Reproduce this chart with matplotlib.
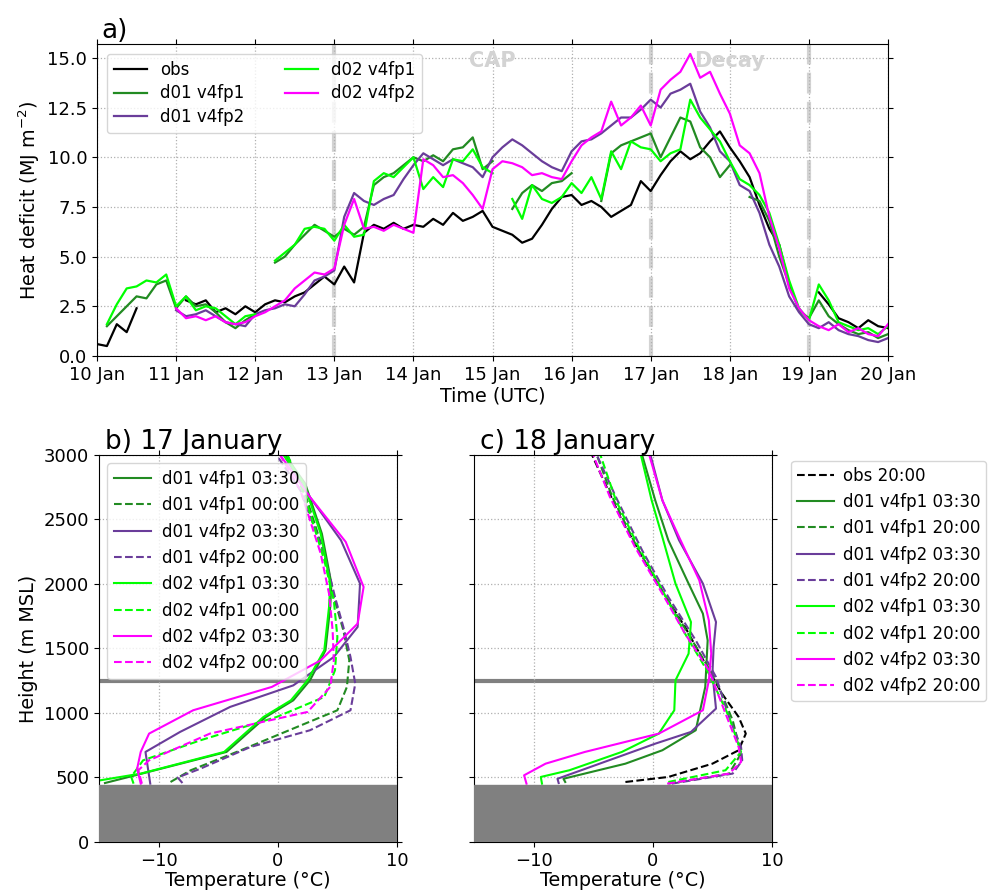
import numpy as np
import matplotlib
matplotlib.use("Agg")
import matplotlib.pyplot as plt

nan = np.nan

# ── a) heat deficit, 3-hourly from 10 Jan 00 UTC to 20 Jan 00 UTC ─────────────
day_labels = ["10 Jan", "11 Jan", "12 Jan", "13 Jan", "14 Jan", "15 Jan",
              "16 Jan", "17 Jan", "18 Jan", "19 Jan", "20 Jan"]
hours = np.arange(81) * 3.0  # hours since 10 Jan 00 UTC

obs = [0.6, 0.5, 1.6, 1.2, 2.4, nan, nan, nan, nan, 2.8, 2.6, 2.8, 2.2, 2.4, 2.1, 2.5,
       2.2, 2.6, 2.8, 2.7, 3.0, 3.2, 3.6, 4.0, 3.6, 4.5, 3.7, 6.2, 6.6, 6.4, 6.7, 6.4,
       6.6, 6.5, 6.9, 6.6, 7.2, 6.8, 7.0, 7.3, 6.5, 6.3, 6.1, 5.7, 5.9, 6.6, 7.4, 8.0,
       8.1, 7.6, 7.8, 7.5, 7.0, 7.3, 7.6, 8.8, 8.3, 9.1, 9.8, 10.3, 9.9, 10.2, 10.8, 11.3,
       10.5, 9.8, 9.0, 7.6, 6.4, 5.6, 3.6, nan, nan, 3.2, 2.6, 1.9, 1.7, 1.4, 1.8, 1.5, 1.4]
d01_fp1 = [nan, 1.5, 2.0, 2.5, 3.0, 2.9, 3.6, 3.8, 2.4, 3.0, 2.5, 2.6, 2.2, 1.7, 1.4, 1.8,
           2.1, nan, 4.7, 5.0, 5.6, 6.1, 6.6, 6.3, 6.0, 6.4, 6.1, 6.5, 8.6, 9.0, 9.2, 9.6,
           10.0, 9.8, 10.1, 9.8, 10.4, 10.5, 11.0, 9.4, 9.8, nan, 7.4, 8.2, 8.6, 8.3, 8.7, 8.8,
           9.2, nan, nan, 7.8, 10.2, 10.6, 10.8, 11.0, 11.2, 10.0, 11.0, 12.0, 11.8, 10.5, 10.0, 9.0,
           9.6, nan, 8.0, 7.8, 6.8, 5.0, 3.6, 2.3, 1.9, 2.8, 2.0, 1.6, 1.3, 1.1, 1.2, 0.9, 1.1]
d01_fp2 = [nan, nan, nan, nan, nan, nan, nan, nan, 2.3, 2.0, 2.1, 2.3, 2.0, 1.7, 1.6, 1.5,
           2.1, 2.3, 2.4, 2.6, 2.5, 3.1, 3.8, 4.0, 4.3, 7.0, 8.2, 7.8, 7.6, 7.9, 8.1, 8.9,
           9.6, 10.2, 9.9, 9.6, 9.9, 9.7, 9.5, 9.0, 10.0, 10.5, 10.9, 10.6, 10.2, 9.8, 9.5, 9.3,
           10.3, 10.8, 10.9, 11.2, 11.6, 12.0, 12.0, 12.4, 12.9, 12.5, 13.2, 13.4, 13.7, 12.3, 11.5, 10.3,
           9.8, 8.6, 8.3, 7.2, 5.6, 4.5, 3.0, 2.2, 1.6, 1.4, 1.7, 1.3, 1.1, 1.0, 0.8, 0.7, 0.9]
d02_fp1 = [nan, 1.6, 2.6, 3.4, 3.5, 3.8, 3.7, 4.1, 2.5, 3.0, 2.3, 2.5, 2.4, 2.0, 1.6, 2.0,
           2.1, nan, 4.8, 5.2, 5.6, 6.4, 6.5, 6.4, 5.8, 6.6, 6.0, 6.1, 8.8, 9.2, 9.0, 9.5,
           10.0, 8.4, 9.0, 8.5, 9.9, 9.8, 10.4, 9.5, 9.2, nan, 7.9, 6.9, 8.6, 7.9, 7.7, 8.0,
           8.7, 8.2, 9.0, 7.9, 10.3, 9.4, 10.8, 10.5, 10.4, 9.8, 10.2, 10.4, 12.9, 12.0, 11.4, 10.8,
           9.8, 8.9, 8.6, 8.1, 7.2, 5.6, 3.8, 2.4, 1.8, 3.6, 2.8, 1.7, 1.5, 1.3, 1.4, 1.1, 1.5]
d02_fp2 = [nan, nan, nan, nan, nan, nan, nan, nan, 2.4, 1.9, 2.0, 1.8, 2.0, 1.7, 1.6, 1.7,
           2.0, 2.2, 2.5, 2.8, 3.4, 3.8, 4.2, 4.1, 4.4, 6.6, 7.9, 6.4, 6.5, 6.3, 6.6, 6.4,
           6.2, 9.9, 9.6, 9.0, 9.1, 8.7, 8.1, 7.4, 9.4, 9.8, 9.7, 9.5, 9.1, 9.2, 9.0, 8.9,
           9.8, 10.6, 11.0, 11.3, 12.8, 11.6, 12.0, 12.6, 11.6, 13.4, 13.9, 14.3, 15.2, 14.0, 14.3, 13.2,
           12.2, 10.6, 10.2, 9.2, 7.0, 5.4, 3.4, 2.4, 1.8, 1.5, 1.3, 1.6, 1.2, 1.4, 1.1, 1.0, 1.6]

period_days = [3, 7, 9]          # vertical dashed markers (13, 17, 19 Jan)
period_names = ["CAP", "Decay"]
period_label_days = [5, 8]

# ── b) 17 January profiles (temperature °C, height m MSL) ─────────────────────
b_fp1_d01_0330_T = [-14.5, -11.4, -4.3, -1.0, 1.3, 2.7, 4.0, 4.4, 4.5, 3.7, 2.3, 0.6]
b_fp1_d01_0330_z = [457, 530, 698, 969, 1098, 1253, 1486, 1822, 2003, 2390, 2778, 3000]
b_fp1_d01_0000_T = [-9.0, -7.3, -3.1, 1.6, 5.0, 5.8, 6.0, 5.5, 4.7, 3.9, 2.2, 0.8]
b_fp1_d01_0000_z = [465, 556, 711, 891, 1021, 1202, 1408, 1641, 1899, 2235, 2726, 3000]
b_fp2_d01_0330_T = [-10.7, -11.1, -8.2, -4.0, 1.3, 4.7, 6.7, 6.9, 5.3, 2.7, 0.5]
b_fp2_d01_0330_z = [452, 698, 853, 1047, 1214, 1434, 1667, 2003, 2339, 2674, 3000]
b_fp2_d01_0000_T = [-8.0, -8.4, -6.5, -2.3, 2.7, 6.1, 6.5, 6.1, 5.5, 4.8, 3.9, 1.9, -0.1]
b_fp2_d01_0000_z = [457, 500, 568, 736, 866, 1021, 1227, 1434, 1667, 1899, 2235, 2726, 3000]
b_fp1_d02_0330_T = [-14.9, -11.5, -4.5, -1.2, 1.1, 2.5, 3.9, 4.3, 4.4, 3.6, 2.2, 0.5]
b_fp1_d02_0330_z = [478, 530, 698, 969, 1098, 1253, 1486, 1822, 2003, 2390, 2778, 3000]
b_fp1_d02_0000_T = [-12.1, -12.3, -11.3, -6.5, -0.1, 3.9, 4.8, 5.0, 4.7, 3.9, 2.2, 0.8]
b_fp1_d02_0000_z = [452, 505, 633, 788, 969, 1124, 1331, 1589, 1873, 2184, 2700, 3000]
b_fp2_d02_0330_T = [-11.5, -11.8, -11.5, -10.8, -7.1, -0.5, 3.6, 6.7, 7.2, 5.7, 2.7, 0.2]
b_fp2_d02_0330_z = [452, 568, 698, 840, 1021, 1202, 1408, 1693, 1977, 2326, 2674, 3000]
b_fp2_d02_0000_T = [-11.4, -11.7, -10.8, -5.7, 2.5, 4.4, 4.7, 4.6, 4.3, 3.6, 1.9, 0.2]
b_fp2_d02_0000_z = [452, 556, 633, 840, 1008, 1202, 1408, 1641, 1925, 2235, 2726, 3000]

# ── c) 18 January profiles ───────────────────────────────────────────────────
c_obs_2000_T = [-2.3, 1.3, 5.0, 7.2, 7.8, 7.2, 5.8, 4.7, 2.7, 0.2, -2.6, -5.1]
c_obs_2000_z = [465, 504, 607, 711, 840, 969, 1150, 1331, 1667, 2028, 2494, 3000]
c_fp1_d01_0330_T = [-7.35, -7.5, -2.3, 0.8, 3.6, 4.4, 4.6, 4.2, 3.0, 1.3, 0.2, -0.9]
c_fp1_d01_0330_z = [465, 490, 607, 711, 866, 1202, 1563, 1770, 2003, 2339, 2649, 3000]
c_fp1_d01_2000_T = [1.3, 6.4, 7.4, 6.7, 5.3, 3.3, 1.1, -1.2, -3.4, -4.7]
c_fp1_d01_2000_z = [452, 530, 685, 943, 1253, 1563, 1899, 2261, 2674, 3000]
c_fp2_d01_0330_T = [-7.9, -8.0, -2.9, 0.2, 3.2, 5.3, 5.0, 5.1, 5.3, 4.2, 2.2, 0.8, -0.2]
c_fp2_d01_0330_z = [457, 490, 659, 762, 853, 1034, 1305, 1512, 1705, 2003, 2339, 2649, 3000]
c_fp2_d01_2000_T = [1.6, 6.7, 7.5, 7.4, 6.4, 5.3, 3.6, 1.3, -0.9, -3.1, -4.7]
c_fp2_d01_2000_z = [452, 530, 633, 736, 969, 1279, 1563, 1899, 2261, 2674, 3000]
c_fp1_d02_0330_T = [-9.3, -9.4, -7.0, -2.6, 0.5, 1.8, 1.9, 3.0, 3.2, 1.9, 0.8, -0.1, -1.0]
c_fp1_d02_0330_z = [452, 504, 556, 698, 840, 1021, 1253, 1460, 1705, 2003, 2364, 2649, 3000]
c_fp1_d02_2000_T = [1.3, 6.1, 7.4, 6.4, 4.7, 2.7, 0.8, -1.2, -3.1, -4.4]
c_fp1_d02_2000_z = [465, 556, 698, 969, 1305, 1615, 1951, 2287, 2649, 3000]
c_fp2_d02_0330_T = [-10.6, -10.8, -9.0, -5.7, 0.5, 4.2, 4.7, 4.9, 4.7, 3.9, 2.2, 0.8, -0.3]
c_fp2_d02_0330_z = [452, 517, 607, 698, 840, 1021, 1253, 1460, 1718, 2028, 2364, 2649, 3000]
c_fp2_d02_2000_T = [1.2, 6.4, 7.4, 7.2, 6.1, 4.7, 2.7, 0.8, -1.5, -3.6, -5.0]
c_fp2_d02_2000_z = [452, 530, 620, 736, 995, 1331, 1615, 1925, 2287, 2674, 3000]

ground_top = 445     # m MSL, grey terrain block
cap_top = 1245       # m MSL, grey horizontal line

C_OBS = "black"
C_D01FP1 = "forestgreen"
C_D01FP2 = "#6a3d9a"
C_D02FP1 = "lime"
C_D02FP2 = "magenta"

LEG_FS = 12.0
LAB_FS = 13.8

plt.rcParams["font.family"] = "DejaVu Sans"
plt.rcParams["font.size"] = 13

fig = plt.figure(figsize=(9.88, 8.96), dpi=100)


def style_ticks(ax):
    ax.tick_params(which="both", direction="out", top=True, right=True, labelsize=13)
    ax.grid(True, linestyle=":", color="#b0b0b0", linewidth=0.9)


# ── panel a ─────────────────────────────────────────────────────────────────
ax = fig.add_axes([0.0982, 0.6027, 0.8006, 0.3482])
days = hours / 24.0
ax.plot(days, obs, color=C_OBS, lw=1.6, label="obs")
ax.plot(days, d01_fp1, color=C_D01FP1, lw=1.6, label="d01 v4fp1")
ax.plot(days, d01_fp2, color=C_D01FP2, lw=1.6, label="d01 v4fp2")
ax.plot(days, d02_fp1, color=C_D02FP1, lw=1.6, label="d02 v4fp1")
ax.plot(days, d02_fp2, color=C_D02FP2, lw=1.6, label="d02 v4fp2")
for d in period_days:
    ax.axvline(d, color="lightgray", lw=3, linestyle=(0, (5, 2)), zorder=0)
for name, d in zip(period_names, period_label_days):
    ax.text(d, 14.85, name, color="lightgray", fontsize=15, fontweight="bold",
            ha="center", va="center")
ax.set_xlim(0, 10)
ax.set_ylim(0, 15.7)
ax.set_xticks(range(11))
ax.set_xticklabels(day_labels)
ax.set_yticks(np.arange(0, 15.1, 2.5))
ax.yaxis.set_major_formatter(matplotlib.ticker.FormatStrFormatter("%.1f"))
ax.set_xlabel("Time (UTC)", fontsize=LAB_FS, labelpad=2)
ax.set_ylabel("Heat deficit (MJ m$^{-2}$)", fontsize=LAB_FS)
ax.set_title("a)", loc="left", x=0.006, fontsize=19, pad=4)
style_ticks(ax)
ax.legend(loc="upper left", ncol=2, fontsize=LEG_FS, framealpha=0.8,
          handlelength=2.0, columnspacing=2.4, borderaxespad=0.6,
          labelspacing=0.35)

# ── panel b ─────────────────────────────────────────────────────────────────
axb = fig.add_axes([0.1002, 0.0603, 0.3016, 0.4319])
axb.plot(b_fp1_d01_0330_T, b_fp1_d01_0330_z, color=C_D01FP1, lw=1.5, label="d01 v4fp1 03:30")
axb.plot(b_fp1_d01_0000_T, b_fp1_d01_0000_z, color=C_D01FP1, lw=1.5, ls="--", label="d01 v4fp1 00:00")
axb.plot(b_fp2_d01_0330_T, b_fp2_d01_0330_z, color=C_D01FP2, lw=1.5, label="d01 v4fp2 03:30")
axb.plot(b_fp2_d01_0000_T, b_fp2_d01_0000_z, color=C_D01FP2, lw=1.5, ls="--", label="d01 v4fp2 00:00")
axb.plot(b_fp1_d02_0330_T, b_fp1_d02_0330_z, color=C_D02FP1, lw=1.5, label="d02 v4fp1 03:30")
axb.plot(b_fp1_d02_0000_T, b_fp1_d02_0000_z, color=C_D02FP1, lw=1.5, ls="--", label="d02 v4fp1 00:00")
axb.plot(b_fp2_d02_0330_T, b_fp2_d02_0330_z, color=C_D02FP2, lw=1.5, label="d02 v4fp2 03:30")
axb.plot(b_fp2_d02_0000_T, b_fp2_d02_0000_z, color=C_D02FP2, lw=1.5, ls="--", label="d02 v4fp2 00:00")
axb.set_ylabel("Height (m MSL)", fontsize=LAB_FS)
axb.set_title("b) 17 January", loc="left", x=0.02, fontsize=19, pad=4)
axb.legend(loc="upper left", fontsize=LEG_FS, framealpha=0.8, handlelength=2.2,
           handletextpad=0.7, borderaxespad=0.5, labelspacing=0.5)

# ── panel c ─────────────────────────────────────────────────────────────────
axc = fig.add_axes([0.4798, 0.0603, 0.3016, 0.4319])
axc.plot(c_obs_2000_T, c_obs_2000_z, color=C_OBS, lw=1.5, ls="--", label="obs 20:00")
axc.plot(c_fp1_d01_0330_T, c_fp1_d01_0330_z, color=C_D01FP1, lw=1.5, label="d01 v4fp1 03:30")
axc.plot(c_fp1_d01_2000_T, c_fp1_d01_2000_z, color=C_D01FP1, lw=1.5, ls="--", label="d01 v4fp1 20:00")
axc.plot(c_fp2_d01_0330_T, c_fp2_d01_0330_z, color=C_D01FP2, lw=1.5, label="d01 v4fp2 03:30")
axc.plot(c_fp2_d01_2000_T, c_fp2_d01_2000_z, color=C_D01FP2, lw=1.5, ls="--", label="d01 v4fp2 20:00")
axc.plot(c_fp1_d02_0330_T, c_fp1_d02_0330_z, color=C_D02FP1, lw=1.5, label="d02 v4fp1 03:30")
axc.plot(c_fp1_d02_2000_T, c_fp1_d02_2000_z, color=C_D02FP1, lw=1.5, ls="--", label="d02 v4fp1 20:00")
axc.plot(c_fp2_d02_0330_T, c_fp2_d02_0330_z, color=C_D02FP2, lw=1.5, label="d02 v4fp2 03:30")
axc.plot(c_fp2_d02_2000_T, c_fp2_d02_2000_z, color=C_D02FP2, lw=1.5, ls="--", label="d02 v4fp2 20:00")
axc.set_title("c) 18 January", loc="left", x=0.02, fontsize=19, pad=4)
axc.tick_params(labelleft=False)
axc.legend(loc="upper left", bbox_to_anchor=(1.065, 0.985), fontsize=LEG_FS,
           handlelength=2.2, handletextpad=0.55, labelspacing=0.5,
           borderaxespad=0.0, borderpad=0.35)

for a in (axb, axc):
    a.axhspan(0, ground_top, color="gray", zorder=3)
    a.axhline(cap_top, color="gray", lw=3, zorder=1)
    a.set_xlim(-15, 10)
    a.set_ylim(0, 3000)
    a.set_xticks([-10, 0, 10])
    a.set_yticks(range(0, 3001, 500))
    a.set_xlabel("Temperature (°C)", fontsize=LAB_FS, labelpad=1)
    style_ticks(a)

fig.savefig("out.png", dpi=100)
